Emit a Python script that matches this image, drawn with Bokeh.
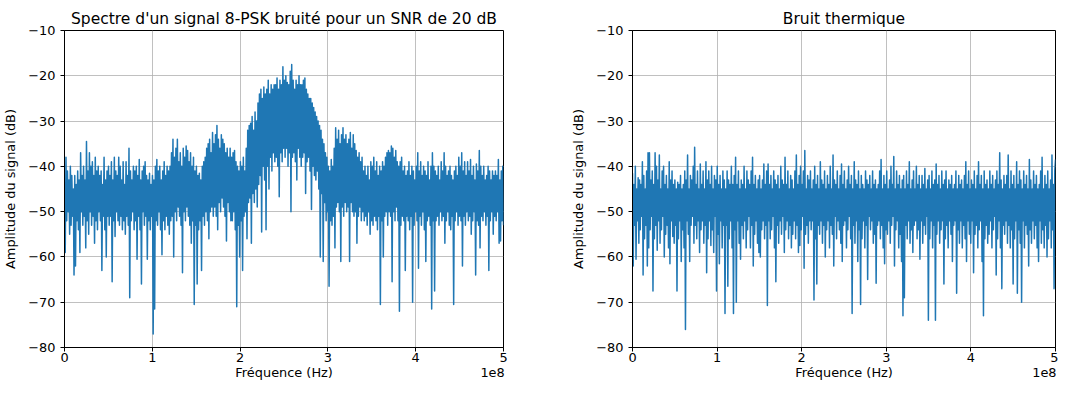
import numpy as np
from bokeh.plotting import figure
from bokeh.layouts import row
from bokeh.models import FixedTicker, CustomJSTickFormatter, Range1d
from bokeh.embed import file_html
from bokeh.resources import INLINE

TITLE_LEFT = "Spectre d'un signal 8-PSK bruité pour un SNR de 20 dB"
TITLE_RIGHT = "Bruit thermique"
X_LABEL = "Fréquence (Hz)"
Y_LABEL = "Amplitude du signal (dB)"
X_OFFSET_TEXT = "1e8"
X_TICKS = [0, 1e8, 2e8, 3e8, 4e8, 5e8]
Y_TICKS = [-80, -70, -60, -50, -40, -30, -20, -10]
F_MAX = 5e8

# spectrum of the noisy 8-PSK signal (dB), 12 bins per 1e7 Hz
psk_db = [
    -44, -59, -38, -52, -41, -50, -43, -55, -40, -53, -42, -51,
    -45, -64, -42, -62, -44, -52, -41, -54, -43, -59, -37, -50,
    -42, -53, -40, -51, -43, -58, -34.5, -52, -41, -55, -37, -50,
    -40, -53, -39, -51, -42, -57, -38, -52, -41, -54, -40, -50,
    -42, -52, -41, -63, -44, -51, -38, -54, -43, -60, -41, -51,
    -40, -53, -42, -51, -39, -65.5, -43, -52, -38, -55.5, -41, -50,
    -42, -52, -38, -53, -40, -51, -43, -54, -39, -52, -44, -55,
    -39, -51, -42, -53, -36, -69, -41, -52, -43, -50, -40, -54,
    -41, -52, -40, -60.5, -42, -51, -38.5, -54, -43, -66, -41, -50,
    -40, -53, -39, -51, -42, -60.5, -43, -52, -41.5, -54, -44, -51,
    -42, -77, -43, -71.5, -40, -52, -38.5, -53, -41, -50, -40, -54,
    -43, -59.5, -41, -52, -39, -54, -42, -51, -40, -53, -41, -55,
    -40, -52, -37, -51, -34, -60, -38, -50, -36, -52, -34, -49,
    -39, -51, -37, -53, -40, -63.5, -36, -50, -38, -52, -35.5, -49,
    -36.5, -51, -39, -53, -37, -57, -40, -52, -38, -70.5, -41, -53,
    -40, -66, -42, -54, -41.5, -52, -43, -63, -40, -51, -39, -53,
    -38, -50, -36, -52, -35, -56, -34, -50, -37, -49, -32.5, -51,
    -35, -49, -33, -51, -31, -54, -34, -48, -36, -50, -33, -47,
    -34, -49, -35, -51, -37, -56.5, -36, -48, -38, -50, -36, -52,
    -38, -52, -37, -50, -36.5, -54, -39, -71, -40, -53, -41, -60,
    -39, -52, -40, -63, -38, -51, -41, -50, -36, -56, -32, -48,
    -31, -47, -30.5, -57, -29, -46, -32, -48, -28, -45, -30, -49,
    -26, -44, -24, -42, -23, -54.5, -25, -40, -22.5, -43, -24, -54,
    -23, -40, -21, -45, -24, -38, -22, -41, -23, -37, -22, -39,
    -22, -38, -20.5, -40, -23, -46.7, -21, -37, -22, -39, -18, -36,
    -21, -38, -20, -36, -21.5, -40, -22, -37, -19, -50, -17.5, -38,
    -21, -37, -23, -39, -21, -43, -22, -36, -20, -38, -22, -40,
    -22, -38, -21, -37, -20.5, -46, -23, -39, -24, -38, -25, -41,
    -25, -49.5, -26, -40, -27, -42, -28, -43, -29, -41, -30, -45,
    -31, -60, -32, -46, -34, -61, -35, -48, -37, -52, -38, -50,
    -40, -66.5, -41, -52, -38.5, -53, -40, -51, -36, -58, -31.5, -49,
    -34, -48, -32, -50, -35, -61, -33, -49, -31.5, -51, -34, -48,
    -33, -50, -35, -49, -34, -61, -32.5, -48, -36, -50, -33, -51,
    -35, -50, -36.5, -57, -38, -51, -37, -49, -39, -52, -38, -50,
    -41, -52, -40, -51, -42, -53, -40, -50, -43, -55, -39, -52,
    -40, -53, -38, -51, -41, -52, -39, -54, -42, -51, -40, -70.5,
    -41, -52, -39, -60, -40, -51, -38, -50, -37, -53, -36.5, -50,
    -37, -51, -35.5, -65.5, -36, -50, -38, -52, -36.5, -49, -39, -52,
    -40, -72, -39, -53, -38, -51, -41, -52, -40, -63, -42, -51,
    -41, -52, -39, -54, -42, -51, -40, -70, -41, -53, -43, -50,
    -40, -52, -37, -62.5, -41, -51, -39, -53, -42, -50, -40, -54,
    -41, -61, -42, -52, -39, -51, -43, -53, -40, -71.5, -37, -52,
    -40, -67.5, -41, -52, -42, -51, -40, -53, -43, -50, -39, -52,
    -41, -51, -37, -57, -40, -52, -42, -50, -41, -53, -40, -54,
    -42, -51, -43, -70.5, -41, -52, -40, -50, -42, -53, -38, -51,
    -40, -52, -37, -62, -41, -51, -39, -53, -42, -50, -39, -52,
    -41, -51, -38.5, -55, -42, -52, -40, -50, -43, -64, -39.5, -52,
    -41, -53, -36.5, -58, -40, -51, -42, -52, -40, -50, -43, -53,
    -42, -51, -40, -63, -41, -52, -43, -50, -41, -55, -42, -51,
    -41, -52, -42, -50, -38.5, -57, -43, -56.5, -41, -52, -40, -53,
]

# thermal noise spectrum (dB), 12 bins per 1e7 Hz
noise_db = [
    -41.5, -62, -44, -53, -40, -60.5, -45, -52, -42.5, -57, -43, -54,
    -44, -51, -39, -64, -42, -56, -45, -53, -41, -62, -37, -58,
    -37, -54, -43, -51, -41, -67.5, -44, -56, -37, -53, -40, -58.5,
    -43, -52, -37.5, -57, -45, -54, -41, -51, -40, -60, -44, -55,
    -42, -53, -45, -58, -39, -61.5, -43, -52, -41, -55.5, -44, -57,
    -43, -53, -45, -67.5, -43.5, -56, -44, -52, -42, -61, -45, -54,
    -44, -58, -41, -76, -43, -52, -37.5, -55, -45, -61, -42, -53,
    -43, -51, -40, -57, -35.8, -53, -44, -56, -41, -52, -45, -59,
    -39.5, -54, -44, -52, -41, -57, -45, -53, -39, -63.5, -43, -56,
    -41, -52, -44, -57.5, -40, -54, -45, -59, -42, -51, -43, -67.5,
    -40, -55, -44, -61.5, -42, -52, -45, -58, -41, -53, -43, -72.5,
    -45, -53, -41, -66.5, -43, -56, -44, -52, -40, -58, -44, -72.5,
    -42, -54, -38, -70, -44, -52, -41, -57, -45, -60.5, -43, -53,
    -44, -56, -40, -52, -45, -58, -41, -54, -43, -51, -44, -58,
    -41, -53, -38, -62, -44, -55, -42, -52, -45, -57, -43, -59,
    -42, -60, -45, -54, -43, -52, -39.5, -56, -44, -53, -41, -70.7,
    -39.5, -52, -44, -56, -42, -54, -45, -51, -41, -58, -43, -65.5,
    -44, -53, -42, -57, -45, -52, -40, -55, -43, -51, -44, -59,
    -38, -54, -44, -52, -41, -56, -45, -53, -42, -58, -43, -55,
    -45, -52, -41, -56, -37.5, -53, -44, -59, -42, -57.5, -40, -54,
    -44, -51, -41, -62.5, -36.5, -55, -45, -53, -42, -57, -43, -52,
    -41, -54, -45, -52, -43, -69.5, -40, -56, -44, -66, -42, -53,
    -45, -55, -39, -52, -43, -57, -44, -53, -41, -60, -45, -54,
    -42, -52, -44, -58, -40, -53, -45, -55, -37.5, -62, -43, -51,
    -44, -56, -41, -52, -45, -54, -42, -57, -39.5, -61, -44, -53,
    -41, -52, -45, -58, -43, -54, -40, -51, -44, -56, -42, -72.5,
    -45, -53, -39, -57, -43, -52, -44, -61, -41, -54, -45, -70.5,
    -42, -56, -44, -52, -45, -58, -41, -53, -43, -65, -44, -51,
    -42, -54, -45, -52, -41, -57, -44, -55, -43, -65.8, -45, -53,
    -44, -52, -41, -56, -38.5, -53, -45, -58, -42, -61.5, -44, -54,
    -41, -55, -45, -52, -43, -57, -40, -53, -44, -51, -37.8, -62,
    -45, -54, -41, -52, -44, -58, -42, -55, -45, -61, -43, -73,
    -42, -69, -45, -53, -41, -56, -44, -52, -39, -57, -45, -54,
    -43, -59, -41, -53, -45, -52, -40, -56, -44, -54, -42, -60.5,
    -45, -52, -42, -57, -44, -53, -40.5, -55, -45, -51, -43, -74,
    -42, -56, -45, -52, -41, -58, -44, -53, -43, -74, -39.5, -55,
    -44, -52, -42, -57, -45, -54, -41, -52, -44, -66, -43, -56,
    -41, -53, -45, -58, -43, -52, -44, -55, -42, -61, -45, -53,
    -44, -52, -41, -68, -45, -54, -42, -57, -44, -52, -43, -58,
    -45, -53, -42, -56, -39, -61, -44, -52, -41, -55, -45, -57,
    -43, -52, -44, -63.5, -41, -55, -45, -53, -42, -58, -39, -54,
    -44, -52, -42, -61, -45, -73, -41, -56, -44, -53, -43, -57,
    -45, -55, -41, -52, -44, -58, -42, -54, -45, -51, -43, -64,
    -41, -56, -44, -52, -37, -58, -43, -67, -45, -53, -42, -55,
    -44, -52, -42, -57, -37.5, -53, -45, -58, -41, -54, -44, -66,
    -42, -56, -45, -52, -39, -68, -44, -54, -41, -57, -43, -70,
    -45, -52, -41, -58, -44, -53, -42, -55, -45, -62, -38.5, -54,
    -43, -57, -45, -52, -41, -56, -44, -53, -42, -58, -45, -61,
    -44, -52, -41, -57, -38, -54, -45, -58, -42, -53, -44, -60,
    -41, -56, -45, -52, -43, -58, -37.5, -54, -44, -67, -41, -38.5,
]

FONT = "DejaVu Sans"
TICK_PX = "12.9px"
TITLE_PX = "15.5px"
HEIGHT = 382
NBSP = "\u00a0"


def make_fig(title, values, width, border_left, border_right, pad_left, pad_right):
    freq = np.linspace(0, F_MAX, len(values))
    p = figure(width=width, height=HEIGHT, output_backend="svg", toolbar_location=None,
               x_range=Range1d(0, F_MAX), y_range=Range1d(-80, -10),
               min_border_left=border_left, min_border_right=border_right,
               min_border_top=30, min_border_bottom=34,
               background_fill_color="white", border_fill_color="white")
    p.title.text = title
    p.title.align = "center"
    p.title.text_font = FONT
    p.title.text_font_size = TITLE_PX
    p.title.text_font_style = "normal"
    p.title.text_color = "black"
    p.title.standoff = 5

    p.line(freq, values, line_color="#1f77b4", line_width=1.5, line_join="round")

    p.xaxis.ticker = FixedTicker(ticks=X_TICKS)
    p.yaxis.ticker = FixedTicker(ticks=Y_TICKS)
    p.xaxis.formatter = CustomJSTickFormatter(code="return (tick/1e8).toFixed(0);")
    p.yaxis.formatter = CustomJSTickFormatter(
        code="return tick < 0 ? '\u2212' + Math.abs(tick) : String(tick);")
    # x label centred, with the "1e8" offset text pushed to the right end of the same row
    p.xaxis.axis_label = NBSP * pad_left + X_LABEL + NBSP * pad_right + X_OFFSET_TEXT
    p.yaxis.axis_label = Y_LABEL
    for ax in (p.xaxis, p.yaxis):
        ax.axis_line_color = "black"
        ax.axis_line_width = 1
        ax.major_tick_line_color = "black"
        ax.major_tick_out = 4
        ax.major_tick_in = 0
        ax.minor_tick_out = 0
        ax.minor_tick_in = 0
        ax.major_label_text_font = FONT
        ax.major_label_text_font_size = TICK_PX
        ax.major_label_text_color = "black"
        ax.axis_label_text_font = FONT
        ax.axis_label_text_font_size = TICK_PX
        ax.axis_label_text_font_style = "normal"
        ax.axis_label_text_color = "black"
    p.xaxis.major_label_standoff = 1
    p.xaxis.axis_label_standoff = 0
    p.yaxis.major_label_standoff = 5
    p.yaxis.axis_label_standoff = 7
    p.grid.grid_line_color = "#b0b0b0"
    p.grid.grid_line_width = 0.8
    p.xgrid.ticker = FixedTicker(ticks=X_TICKS)
    p.ygrid.ticker = FixedTicker(ticks=Y_TICKS)
    p.outline_line_color = "black"
    p.outline_line_width = 1
    p.outline_line_alpha = 1
    return p


left = make_fig(TITLE_LEFT, psk_db, 560, 64, 57, 42, 36)
right = make_fig(TITLE_RIGHT, noise_db, 498, 72, 3, 40, 34)

layout = row(left, right)
open("out.html", "w").write(file_html(layout, INLINE))
